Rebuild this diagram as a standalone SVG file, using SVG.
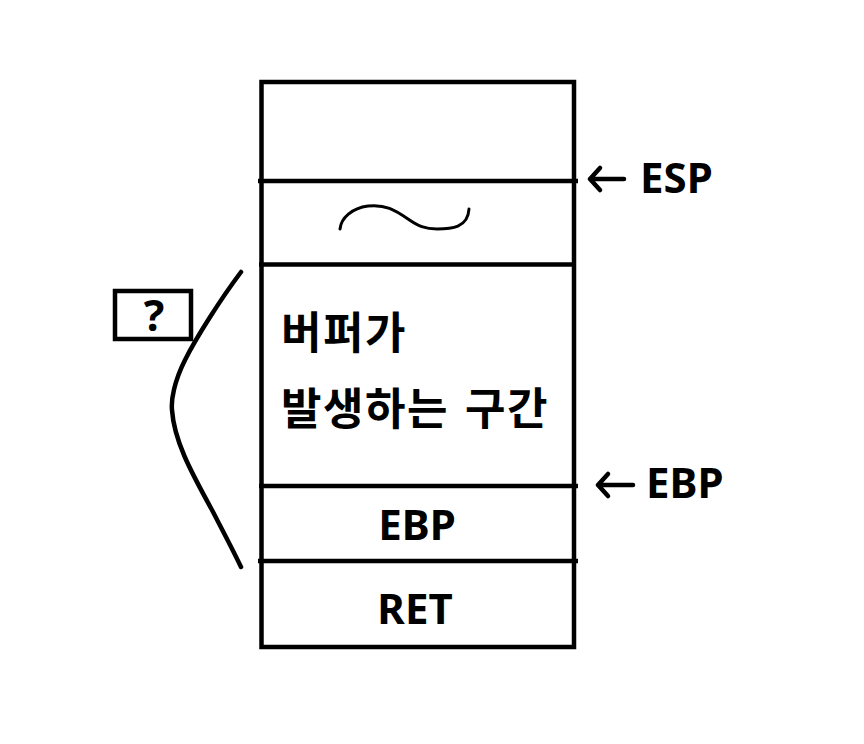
<svg xmlns="http://www.w3.org/2000/svg" width="864" height="744" viewBox="0 0 864 744">
<style>
.ln{stroke:#000;stroke-width:4.5;fill:none;stroke-linecap:butt}
.thin{stroke:#000;stroke-width:3;fill:none;stroke-linecap:round;stroke-linejoin:round}
.curve{stroke:#000;stroke-width:4.5;fill:none;stroke-linecap:round}
.t{font-family:"Noto Sans","Noto Sans CJK KR",sans-serif;font-weight:bold;fill:#000}
.k{font-family:"Noto Sans CJK KR",sans-serif;font-weight:bold;fill:#000;letter-spacing:1.5px}
</style>
<rect width="864" height="744" fill="#fff"/>
<g id="stack">
<rect class="ln" x="261.5" y="82" width="312.5" height="565"/>
</g>
<g id="row-tilde">
<path class="thin" d="M340,229 C341,218 352,208 368,206 C385,204 395,210 408,219 C418,226 425,229 437,229 C451,229 468,228 469,209"/>
</g>
<g id="row-buffer">
<text class="k" x="281" y="349" font-size="44">버퍼가</text>
<text class="k" x="281" y="425" font-size="44">발생하는 <tspan x="465">구간</tspan></text>
</g>
<g id="row-ebp">
<text class="t" x="417" y="540" font-size="42" text-anchor="middle">EBP</text>
</g>
<g id="row-ret">
<text class="t" x="415" y="624" font-size="42" text-anchor="middle">RET</text>
</g>
<g id="label-esp">
<text class="t" x="640" y="193" font-size="42">ESP</text>
</g>
<g id="label-ebp">
<text class="t" x="646" y="498" font-size="42">EBP</text>
</g>
<g id="question">
<rect class="ln" x="115" y="291" width="76" height="48"/>
<text class="t" x="154" y="331" font-size="43" text-anchor="middle">?</text>
</g>
<g id="connectors">
<line class="ln" x1="258" y1="181" x2="578" y2="181"/>
<line class="ln" x1="259" y1="264.5" x2="576" y2="264.5"/>
<line class="ln" x1="259" y1="486" x2="578" y2="486"/>
<line class="ln" x1="258" y1="561" x2="578" y2="561"/>
<path class="curve" d="M241,272 C220,300 196,338 185,360 C174,382 171,400 172,410 C174,440 190,470 212,510 C225,535 234,552 241,567"/>
<path class="curve" d="M590,179 L624,179 M590,179 L600,168 M590,179 L600,190"/>
<path class="curve" d="M598,485 L633,485 M598,485 L608,474 M598,485 L608,496"/>
</g>
</svg>
